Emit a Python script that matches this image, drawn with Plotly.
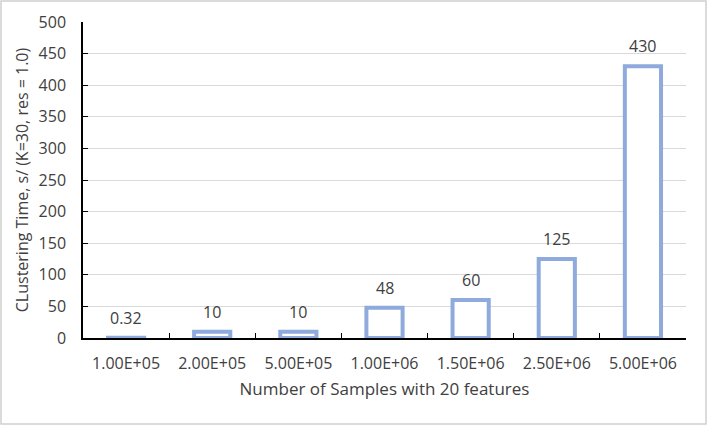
import plotly.graph_objects as go

categories = ["1.00E+05", "2.00E+05", "5.00E+05", "1.00E+06", "1.50E+06", "2.50E+06", "5.00E+06"]
times = [0.32, 10, 10, 48, 60, 125, 430]
labels = ["0.32", "10", "10", "48", "60", "125", "430"]

W, H = 708, 426
ml, mr, mt, mb = 83, 22, 22, 88
pw, ph = W - ml - mr, H - mt - mb

txt = "#404040"
fnt = "Open Sans"

fig = go.Figure(go.Bar(
    x=categories, y=times,
    marker=dict(color="white", line=dict(color="#8faadc", width=4)),
    cliponaxis=False,
))

for i, (v, t) in enumerate(zip(times, labels)):
    fig.add_annotation(x=i, y=v, text=t, showarrow=False, yanchor="bottom", yshift=7,
                       font=dict(size=16, color=txt, family=fnt))

# outer chart border
x0 = (1 - ml) / pw
x1 = (W - 2 - ml) / pw
y0 = -(H - 2 - mt - ph) / ph
y1 = 1 + (mt - 1) / ph
fig.add_shape(type="rect", xref="paper", yref="paper", x0=x0, x1=x1, y0=y0, y1=y1,
              line=dict(color="#d0d0d0", width=1.5), fillcolor="rgba(0,0,0,0)", layer="below")

fig.update_layout(
    width=W, height=H,
    margin=dict(l=ml, r=mr, t=mt, b=mb),
    paper_bgcolor="white", plot_bgcolor="white",
    bargap=0.58, showlegend=False,
    font=dict(family=fnt, color=txt, size=16),
)
fig.update_xaxes(
    type="category",
    showline=True, linecolor="black", linewidth=1.5,
    ticks="inside", ticklen=5, tickcolor="black", tickson="boundaries",
    tickfont=dict(size=16, color=txt, family=fnt), ticklabelstandoff=10,
    title=dict(text="Number of Samples with 20 features", font=dict(size=17, color=txt, family=fnt), standoff=10),
)
fig.update_yaxes(
    range=[0, 500], dtick=50, showline=True, linecolor="black", linewidth=1.5,
    ticks="inside", ticklen=5, tickcolor="black",
    showgrid=True, gridcolor="#d9d9d9", gridwidth=1, zeroline=False,
    tickfont=dict(size=16, color=txt, family=fnt), ticklabelstandoff=12,
    title=dict(text="CLustering Time, s/ (K=30, res = 1.0)", font=dict(size=16, color=txt, family=fnt), standoff=6),
)

fig.write_html("out.html")
